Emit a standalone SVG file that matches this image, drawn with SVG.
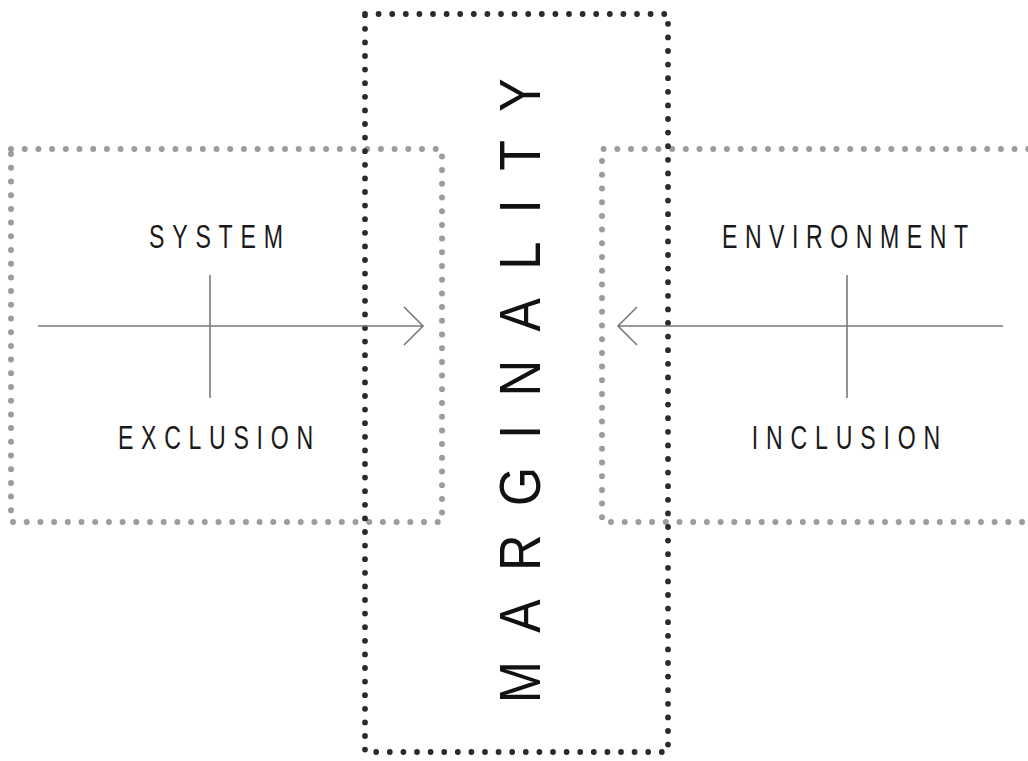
<svg xmlns="http://www.w3.org/2000/svg" width="1028" height="761" viewBox="0 0 1028 761">
<style>
.side{fill:none;stroke:#9c9c9c;stroke-width:6;stroke-linecap:round;stroke-dasharray:0 13.7}
.center{fill:none;stroke:#2b2b2b;stroke-width:5.8;stroke-linecap:round;stroke-dasharray:0 13.6}
.ln{fill:none;stroke:#7a7a7a;stroke-width:1.6}
.lbl{font-family:"Liberation Sans",Arial,sans-serif;font-size:34px;fill:#1a1a1a;text-anchor:middle}
.big{font-family:"Liberation Sans",Arial,sans-serif;font-size:57px;fill:#111}
</style>
<rect width="1028" height="761" fill="#fff"/>
<g id="system-box">
<rect class="side" x="11" y="149" width="431" height="373"/>
<text class="lbl" transform="translate(216 248) scale(0.68 1)" textLength="197" lengthAdjust="spacing">SYSTEM</text>
<text class="lbl" transform="translate(215.5 449) scale(0.68 1)" textLength="287" lengthAdjust="spacing">EXCLUSION</text>
</g>
<g id="environment-box">
<path class="side" d="M1042,149 H602 V522 H1042"/>
<text class="lbl" transform="translate(845 248) scale(0.68 1)" textLength="362" lengthAdjust="spacing">ENVIRONMENT</text>
<text class="lbl" transform="translate(846 449) scale(0.68 1)" textLength="277" lengthAdjust="spacing">INCLUSION</text>
</g>
<g id="marginality-box">
<rect class="center" x="365" y="14" width="303" height="738"/>
<text class="big" transform="translate(540 703) rotate(-90) scale(0.88 1)" x="0" y="0" textLength="710" lengthAdjust="spacing">MARGINALITY</text>
</g>
<g id="connectors">
<path class="ln" d="M38,326 H423 M404,307 L423,326 L404,345"/>
<path class="ln" d="M210,275 V398"/>
<path class="ln" d="M1003,326 H618 M637,307 L618,326 L637,345"/>
<path class="ln" d="M847,275 V398"/>
</g>
</svg>
